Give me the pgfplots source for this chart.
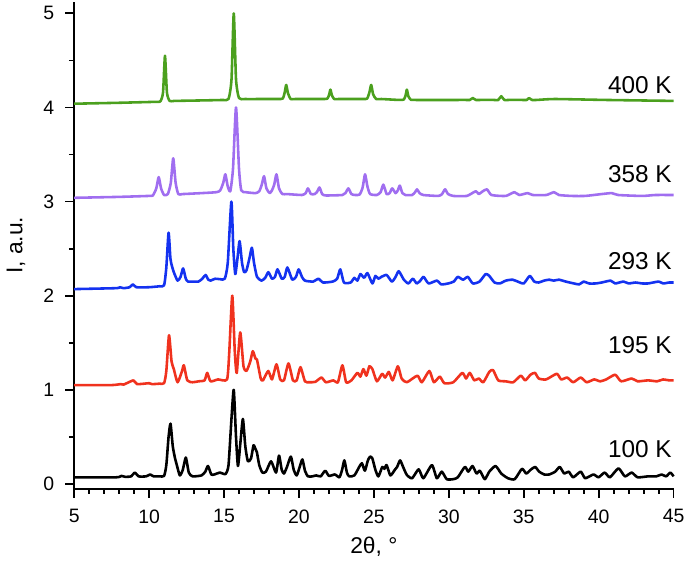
\documentclass[border=0pt]{standalone}
\usepackage{pgfplots}
\pgfplotsset{compat=1.18}
\usepackage{fontspec}
\setmainfont{Liberation Sans}

\definecolor{c100}{RGB}{0,0,0}
\definecolor{c195}{RGB}{240,50,30}
\definecolor{c293}{RGB}{20,50,240}
\definecolor{c358}{RGB}{160,110,240}
\definecolor{c400}{RGB}{75,160,30}

\begin{document}
\begin{tikzpicture}
\begin{axis}[
  scale only axis, width=302.5pt, height=245.5pt,
  xmin=5, xmax=45, ymin=-0.05, ymax=5.12,
  axis x line*=bottom, axis y line*=left,
  axis line style={line width=1pt},
  every tick/.style={black, line width=0.9pt},
  tick align=outside,
  major tick length=4.5pt, minor tick length=2.7pt,
  xtick={5,10,...,45}, minor x tick num=4,
  ytick={0,1,...,5}, minor y tick num=1,
  /pgf/number format/assume math mode=true,
  tick label style={font=\fontsize{9.8}{11}\selectfont},
  xticklabel style={yshift=-2.5pt},
  yticklabel style={xshift=-2pt},
  label style={font=\fontsize{11.5}{13}\selectfont},
  xlabel={2θ, °}, ylabel={I, a.u.},
  xlabel style={at={(axis description cs:0.5,-0.085)}, anchor=north},
  ylabel style={at={(axis description cs:-0.07,0.5)}, anchor=south},
  every axis plot/.append style={line width=1.3pt, no marks, smooth, tension=0.35, line join=round},
  clip=false,
]
% 100 K
\addplot[c100] coordinates {(5,0.07) (7.8,0.07) (8.15,0.085) (8.4,0.075) (8.8,0.08) (9.05,0.12) (9.3,0.08) (9.8,0.08) (10.07,0.10) (10.3,0.08) (10.7,0.08) (11.0,0.085) (11.15,0.2) (11.3,0.5) (11.43,0.64) (11.58,0.4) (11.72,0.28) (11.85,0.2) (12.05,0.09) (12.25,0.15) (12.45,0.28) (12.65,0.12) (12.9,0.08) (13.5,0.09) (13.75,0.13) (13.93,0.19) (14.15,0.1) (14.35,0.1) (14.72,0.12) (15.1,0.105) (15.3,0.2) (15.5,0.7) (15.65,1.0) (15.8,0.5) (15.93,0.19) (16.1,0.45) (16.26,0.69) (16.42,0.4) (16.59,0.24) (16.8,0.27) (16.97,0.41) (17.1,0.37) (17.19,0.34) (17.35,0.2) (17.56,0.12) (17.8,0.13) (18.14,0.24) (18.47,0.12) (18.67,0.30) (18.85,0.15) (19.0,0.11) (19.2,0.18) (19.46,0.29) (19.65,0.15) (19.85,0.09) (20.05,0.18) (20.23,0.26) (20.4,0.14) (20.6,0.08) (20.9,0.08) (21.15,0.09) (21.45,0.08) (21.75,0.14) (22.0,0.085) (22.4,0.10) (22.7,0.07) (22.88,0.15) (23.03,0.25) (23.2,0.12) (23.35,0.08) (23.7,0.09) (24.02,0.18) (24.2,0.22) (24.4,0.14) (24.6,0.25) (24.75,0.29) (24.9,0.27) (25.1,0.15) (25.3,0.08) (25.56,0.18) (25.7,0.16) (25.85,0.2) (26.1,0.09) (26.4,0.15) (26.55,0.18) (26.75,0.25) (26.95,0.18) (27.2,0.095) (27.55,0.06) (27.99,0.155) (28.3,0.06) (28.87,0.20) (29.2,0.06) (29.53,0.13) (29.86,0.05) (30.3,0.05) (30.6,0.07) (31.07,0.18) (31.3,0.13) (31.58,0.19) (31.85,0.11) (32.07,0.14) (32.4,0.05) (32.7,0.13) (33.12,0.19) (33.5,0.11) (33.95,0.06) (34.4,0.05) (34.88,0.16) (35.17,0.11) (35.46,0.15) (35.76,0.18) (36.03,0.13) (36.36,0.10) (36.7,0.10) (37.1,0.13) (37.4,0.18) (37.7,0.11) (38.0,0.13) (38.3,0.07) (38.8,0.13) (39.1,0.06) (39.65,0.10) (39.99,0.07) (40.4,0.12) (40.75,0.07) (41.32,0.165) (41.75,0.08) (42.2,0.12) (42.6,0.07) (43.3,0.08) (43.85,0.08) (44.2,0.10) (44.5,0.08) (44.78,0.12) (45,0.08)};
% 195 K
\addplot[c195] coordinates {(5,1.05) (7.5,1.05) (8.1,1.06) (8.3,1.055) (8.95,1.1) (9.2,1.06) (10.0,1.07) (10.2,1.06) (10.7,1.065) (11.0,1.07) (11.15,1.2) (11.33,1.58) (11.5,1.3) (11.65,1.22) (11.9,1.08) (12.2,1.2) (12.32,1.26) (12.55,1.1) (12.9,1.08) (13.3,1.09) (13.7,1.1) (13.88,1.18) (14.1,1.09) (14.6,1.11) (15.2,1.11) (15.35,1.4) (15.55,2.0) (15.72,1.4) (15.85,1.18) (16.08,1.61) (16.3,1.25) (16.5,1.2) (16.75,1.3) (16.92,1.41) (17.1,1.33) (17.2,1.32) (17.45,1.12) (17.6,1.1) (17.95,1.2) (18.2,1.11) (18.5,1.27) (18.75,1.11) (19.0,1.1) (19.3,1.28) (19.6,1.1) (19.85,1.1) (20.1,1.24) (20.4,1.09) (20.7,1.08) (21.1,1.085) (21.5,1.13) (21.8,1.08) (22.3,1.1) (22.6,1.08) (22.9,1.26) (23.15,1.08) (23.5,1.1) (23.9,1.18) (24.1,1.14) (24.3,1.22) (24.5,1.15) (24.7,1.25) (24.9,1.22) (25.2,1.09) (25.55,1.17) (25.75,1.13) (26.0,1.19) (26.25,1.1) (26.6,1.25) (26.85,1.12) (27.2,1.08) (27.9,1.15) (28.2,1.08) (28.7,1.2) (29.0,1.08) (29.4,1.14) (29.7,1.07) (30.3,1.08) (30.9,1.18) (31.15,1.12) (31.4,1.18) (31.7,1.1) (32.0,1.12) (32.3,1.08) (32.7,1.19) (32.95,1.21) (33.3,1.1) (33.8,1.09) (34.3,1.08) (34.8,1.15) (35.1,1.1) (35.45,1.16) (35.75,1.18) (36.0,1.12) (36.5,1.11) (37.2,1.17) (37.5,1.11) (37.9,1.13) (38.3,1.08) (38.8,1.13) (39.2,1.08) (39.7,1.11) (40.1,1.09) (40.5,1.11) (41.1,1.16) (41.5,1.09) (42.2,1.12) (42.6,1.09) (43.3,1.1) (43.9,1.09) (44.3,1.11) (44.7,1.1) (45,1.1)};
% 293 K
\addplot[c293] coordinates {(5,2.07) (7.8,2.08) (8.04,2.09) (8.3,2.08) (8.7,2.09) (8.92,2.12) (9.15,2.09) (10.0,2.09) (10.7,2.1) (11.0,2.11) (11.15,2.3) (11.3,2.67) (11.42,2.4) (11.5,2.33) (11.65,2.25) (11.9,2.16) (12.1,2.2) (12.27,2.29) (12.45,2.18) (12.6,2.15) (13.0,2.15) (13.3,2.15) (13.55,2.18) (13.77,2.22) (13.95,2.17) (14.1,2.16) (14.4,2.18) (14.75,2.175) (15.05,2.18) (15.25,2.35) (15.49,3.0) (15.62,2.5) (15.75,2.23) (15.9,2.4) (16.04,2.58) (16.2,2.35) (16.34,2.25) (16.5,2.27) (16.7,2.4) (16.86,2.51) (17.0,2.35) (17.2,2.2) (17.5,2.16) (17.75,2.19) (17.96,2.25) (18.2,2.18) (18.4,2.2) (18.57,2.28) (18.85,2.18) (19.05,2.2) (19.23,2.30) (19.55,2.17) (19.8,2.2) (19.98,2.28) (20.2,2.2) (20.4,2.16) (20.95,2.15) (21.3,2.18) (21.6,2.14) (22.25,2.15) (22.55,2.18) (22.76,2.28) (23.0,2.14) (23.45,2.14) (23.7,2.19) (23.9,2.16) (24.1,2.23) (24.35,2.19) (24.57,2.24) (24.9,2.13) (25.1,2.21) (25.3,2.18) (25.5,2.2) (25.85,2.22) (26.2,2.15) (26.45,2.2) (26.66,2.26) (27.0,2.17) (27.3,2.13) (27.6,2.18) (27.86,2.13) (28.1,2.16) (28.32,2.2) (28.65,2.13) (29.2,2.16) (29.5,2.12) (29.96,2.13) (30.33,2.15) (30.6,2.2) (30.95,2.17) (31.27,2.2) (31.6,2.13) (32.05,2.15) (32.46,2.23) (32.7,2.21) (33.05,2.14) (33.4,2.13) (33.8,2.16) (34.25,2.17) (34.6,2.15) (35.0,2.13) (35.4,2.21) (35.7,2.15) (36.0,2.14) (36.35,2.16) (36.7,2.17) (37.0,2.16) (37.35,2.17) (37.8,2.15) (38.35,2.13) (38.7,2.12) (39.0,2.15) (39.35,2.13) (39.8,2.13) (40.2,2.14) (40.8,2.16) (41.1,2.13) (41.65,2.15) (42.0,2.13) (42.45,2.14) (42.9,2.13) (43.3,2.13) (44.0,2.15) (44.3,2.13) (44.7,2.14) (45,2.14)};
% 358 K
\addplot[c358] coordinates {(5,3.04) (8,3.05) (9.95,3.06) (10.25,3.065) (10.48,3.14) (10.64,3.26) (10.8,3.14) (11.0,3.07) (11.25,3.08) (11.45,3.2) (11.61,3.46) (11.77,3.2) (11.95,3.08) (12.25,3.08) (13.5,3.09) (14.5,3.1) (14.75,3.12) (14.95,3.2) (15.09,3.29) (15.25,3.16) (15.42,3.11) (15.6,3.35) (15.8,4.0) (16.0,3.35) (16.15,3.12) (16.45,3.1) (17.1,3.09) (17.35,3.11) (17.52,3.18) (17.67,3.27) (17.83,3.14) (18.05,3.09) (18.2,3.12) (18.35,3.18) (18.5,3.29) (18.67,3.14) (18.9,3.08) (19.2,3.08) (20.2,3.07) (20.45,3.09) (20.6,3.14) (20.8,3.08) (21.05,3.08) (21.2,3.1) (21.37,3.15) (21.55,3.08) (21.8,3.065) (22.9,3.07) (23.1,3.09) (23.3,3.14) (23.5,3.08) (23.75,3.07) (24.05,3.075) (24.25,3.15) (24.41,3.29) (24.57,3.16) (24.75,3.08) (25.2,3.07) (25.45,3.1) (25.63,3.18) (25.85,3.08) (26.05,3.09) (26.22,3.14) (26.45,3.09) (26.6,3.12) (26.73,3.17) (26.9,3.09) (27.1,3.07) (27.55,3.07) (27.75,3.1) (27.88,3.13) (28.05,3.09) (28.3,3.07) (29.3,3.06) (29.55,3.08) (29.75,3.13) (29.95,3.08) (30.3,3.06) (31.2,3.06) (31.8,3.11) (32.0,3.08) (32.27,3.11) (32.55,3.13) (32.85,3.07) (33.8,3.06) (34.37,3.10) (34.7,3.07) (35.26,3.09) (35.6,3.07) (36.5,3.07) (37.02,3.10) (37.35,3.07) (38.2,3.06) (39.1,3.06) (40.2,3.08) (40.88,3.09) (41.3,3.07) (42.9,3.06) (43.8,3.07) (45,3.07)};
% 400 K
\addplot[c400] coordinates {(5,4.04) (8,4.05) (10.4,4.06) (10.75,4.065) (10.93,4.16) (11.06,4.55) (11.19,4.16) (11.37,4.07) (11.7,4.07) (13.5,4.075) (14.9,4.08) (15.3,4.09) (15.5,4.3) (15.65,5.0) (15.8,4.3) (16.0,4.1) (16.4,4.09) (17.5,4.09) (18.6,4.09) (18.92,4.095) (19.05,4.16) (19.15,4.24) (19.27,4.15) (19.45,4.09) (19.75,4.09) (21.6,4.09) (21.9,4.095) (22.02,4.14) (22.1,4.19) (22.2,4.13) (22.35,4.09) (22.65,4.09) (24.25,4.09) (24.55,4.095) (24.7,4.16) (24.82,4.24) (24.95,4.14) (25.15,4.09) (25.5,4.09) (26.7,4.08) (27.0,4.085) (27.12,4.13) (27.2,4.19) (27.3,4.12) (27.45,4.085) (27.75,4.08) (31.1,4.08) (31.4,4.08) (31.6,4.1) (31.8,4.08) (32.1,4.08) (33.0,4.08) (33.3,4.08) (33.5,4.12) (33.7,4.08) (34.0,4.08) (34.9,4.08) (35.2,4.08) (35.35,4.1) (35.55,4.08) (35.85,4.08) (37.1,4.09) (40.5,4.08) (45,4.07)};
\begin{scope}[every node/.style={anchor=east, inner sep=0pt, font=\fontsize{12.3}{14}\selectfont}]
\node at (axis cs:44.9,4.24) {400 K};
\node at (axis cs:44.9,3.29) {358 K};
\node at (axis cs:44.9,2.37) {293 K};
\node at (axis cs:44.9,1.47) {195 K};
\node at (axis cs:44.9,0.37) {100 K};
\end{scope}
\end{axis}
\end{tikzpicture}
\end{document}
